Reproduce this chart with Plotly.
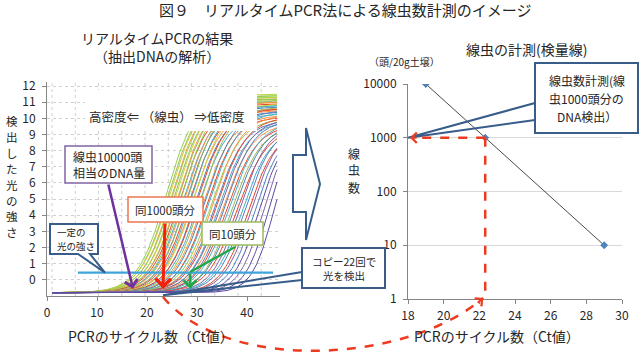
import numpy as np
import plotly.graph_objects as go

W, H = 640, 356

# ---------------- data ----------------
cycle_ticks = [0, 10, 20, 30, 40]
intensity_ticks = list(range(0, 13))
baseline = -0.8

# amplification curves (midpoint cycle, steepness, rise height, colour)
curve_mid = [23.9, 24.3, 24.6, 24.9, 25.2, 25.5, 25.8, 26.1, 26.4, 26.7,
             27.0, 27.3, 27.6, 27.9, 28.2, 28.5, 28.8, 29.1, 29.4, 29.7,
             30.0, 30.4, 30.8, 31.2, 31.6, 32.0, 32.4, 32.8, 33.2, 33.6,
             34.0, 34.4, 34.8, 35.2, 35.6, 36.0, 36.5, 37.0, 37.5, 38.0,
             38.5, 39.0, 39.6, 40.2, 40.8, 41.5, 42.3, 43.2, 44.2, 45.3]
curve_scale = [2.9, 2.9, 3.0, 2.9, 3.0, 2.9, 3.0, 2.9, 3.0, 3.0,
               2.9, 3.0, 3.0, 2.9, 3.0, 3.0, 2.9, 3.0, 3.0, 2.9,
               3.0, 3.0, 2.9, 3.0, 3.0, 2.9, 3.0, 3.0, 2.9, 3.0,
               3.0, 2.9, 3.0, 3.0, 2.9, 3.0, 3.0, 2.9, 3.0, 3.0,
               2.8, 2.8, 2.8, 2.7, 2.7, 2.6, 2.5, 2.4, 2.3, 2.2]
curve_height = [12.2, 12.1, 12.3, 12.0, 12.2, 11.9, 12.1, 11.8, 12.0, 11.7,
                12.0, 11.6, 11.8, 11.5, 11.9, 11.4, 11.6, 11.3, 11.7, 11.2,
                11.4, 11.1, 11.5, 11.0, 11.3, 10.9, 11.2, 10.8, 11.0, 10.7,
                10.9, 10.6, 10.8, 10.5, 10.7, 10.4, 10.6, 10.3, 10.5, 10.2,
                10.4, 10.1, 10.3, 10.0, 10.2, 10.0, 10.0, 10.0, 10.0, 10.0]
G, LG, YG, O, R, B, C, P, DP = ("#9BBB59", "#92D050", "#C3D33C", "#F79646", "#E8452C",
                                "#4F81BD", "#4BACC6", "#8064A2", "#5B4BA5")
curve_color = [LG, G, YG, O, LG, G, YG, O, G, R,
               LG, C, O, B, G, R, C, O, YG, B,
               R, C, G, O, B, R, C, LG, O, B,
               R, C, P, O, B, R, C, G, B, R,
               P, C, B, R, P, B, DP, P, DP, DP]

threshold_x = [6.2, 45.2]
threshold_y = [0.45, 0.45]
arrow_ct = [17.2, 23.2, 28.6]       # 10000頭, 1000頭, 10頭

calib_ct = [19.0, 22.33, 29.0]
calib_count = [10000, 1000, 10]
calib_xticks = [18, 20, 22, 24, 26, 28, 30]
calib_yticks = [1, 10, 100, 1000, 10000]

# ---------------- geometry helpers ----------------
L_X0, L_X1, L_Y0, L_Y1 = 47, 280, 82, 296      # left plot area (px)
L_XR, L_YR = [0, 46.6], [-1, 12.25]
R_X0, R_X1, R_Y0, R_Y1 = 408, 622, 84, 299     # right plot area (px)
R_XR, R_YR = [18, 30], [0, 4]


def X(p):
    return p / W


def Y(p):
    return 1 - p / H


def lx(c):
    return L_X0 + (c - L_XR[0]) / (L_XR[1] - L_XR[0]) * (L_X1 - L_X0)


def ly(v):
    return L_Y1 - (v - L_YR[0]) / (L_YR[1] - L_YR[0]) * (L_Y1 - L_Y0)


def rx(c):
    return R_X0 + (c - R_XR[0]) / (R_XR[1] - R_XR[0]) * (R_X1 - R_X0)


def ry(v):
    return R_Y1 - (np.log10(v) - R_YR[0]) / (R_YR[1] - R_YR[0]) * (R_Y1 - R_Y0)


def poly(points, close=True):
    s = "M " + " L ".join(f"{X(x):.5f},{Y(y):.5f}" for x, y in points)
    return s + (" Z" if close else "")


FONT = "Noto Sans CJK JP"
TXT = "#262626"
AX = "#868686"
NAVY = "#385D8A"

fig = go.Figure()

cycles = np.arange(1, 46.01, 0.25)
for m, s, h, col in zip(curve_mid, curve_scale, curve_height, curve_color):
    fig.add_trace(go.Scatter(x=cycles, y=baseline + h / (1 + np.exp(-(cycles - m) / s)),
                             mode="lines", line=dict(color=col, width=1),
                             xaxis="x", yaxis="y", hoverinfo="skip", showlegend=False))

fig.add_trace(go.Scatter(x=threshold_x, y=threshold_y, mode="lines",
                         line=dict(color="#3FA4DC", width=2.2),
                         xaxis="x", yaxis="y", hoverinfo="skip", showlegend=False))

fig.add_trace(go.Scatter(x=calib_ct, y=calib_count, mode="lines+markers",
                         line=dict(color="#1a1a1a", width=0.8),
                         marker=dict(symbol="diamond", size=6, color="#4F81BD"),
                         xaxis="x2", yaxis="y2", hoverinfo="skip", showlegend=False))

tickfont = dict(family=FONT, size=12, color=TXT)
fig.update_layout(
    width=W, height=H, margin=dict(l=0, r=0, t=0, b=0, pad=0, autoexpand=False),
    paper_bgcolor="white", plot_bgcolor="white", showlegend=False,
    xaxis=dict(domain=[X(L_X0), X(L_X1)], range=L_XR, tickvals=cycle_ticks,
               ticks="outside", ticklen=4, tickcolor=AX, showline=True, linecolor=AX,
               showgrid=False, zeroline=False, tickfont=tickfont, anchor="y",
               ticklabelstandoff=2, automargin=False),
    yaxis=dict(domain=[Y(L_Y1), Y(L_Y0)], range=L_YR, tickvals=intensity_ticks,
               ticks="outside", ticklen=4, tickcolor=AX, showline=True, linecolor=AX,
               showgrid=True, gridcolor="#D0D0D0", griddash="dot", zeroline=False,
               tickfont=tickfont, anchor="x", ticklabelstandoff=4, automargin=False),
    xaxis2=dict(domain=[X(R_X0), X(R_X1)], range=R_XR, tickvals=calib_xticks,
                ticks="outside", ticklen=4, tickcolor=AX, showline=True, linecolor=AX,
                showgrid=False, zeroline=False, tickfont=tickfont, anchor="y2",
                ticklabelstandoff=2, automargin=False),
    yaxis2=dict(domain=[Y(R_Y1), Y(R_Y0)], type="log", range=R_YR, tickvals=calib_yticks,
                ticktext=[str(v) for v in calib_yticks],
                ticks="outside", ticklen=4, tickcolor=AX, showline=True, linecolor=AX,
                showgrid=True, gridcolor="#D9D9D9", zeroline=False, tickfont=tickfont,
                anchor="x2", ticklabelstandoff=4, automargin=False),
)

shapes = []
# dotted vertical gridlines of the left chart
for k in range(10):
    gx = 1 + 4.65 * k
    shapes.append(dict(type="line", xref="x", yref="y", x0=gx, x1=gx, y0=L_YR[0], y1=L_YR[1],
                       line=dict(color="#D0D0D0", width=1, dash="dot"), layer="below"))

# white background behind the density label
shapes.append(dict(type="rect", xref="paper", yref="paper", x0=X(85), x1=X(257), y0=Y(131), y1=Y(90),
                   fillcolor="white", line=dict(width=0), layer="above"))


def rect(x0, y0, x1, y1, color, width=1.5):
    return dict(type="rect", xref="paper", yref="paper", x0=X(x0), x1=X(x1), y0=Y(y1), y1=Y(y0),
                fillcolor="white", line=dict(color=color, width=width), layer="above")


shapes.append(rect(65, 146, 152, 183, "#8064A2"))
shapes.append(rect(128, 197, 203, 222, "#EB7752"))
shapes.append(rect(202, 222, 263, 245, "#9BBB59"))

thr_tip = (lx(11.6), ly(threshold_y[0]))
shapes.append(dict(type="path", xref="paper", yref="paper",
                   path=poly([(50, 224), (98, 224), (98, 254), (90, 254), thr_tip, (78, 254), (50, 254)]),
                   fillcolor="white", line=dict(color=NAVY, width=2), layer="above"))

copy_tip = (lx(arrow_ct[1]), ly(-0.95))
shapes.append(rect(302, 248, 385, 288, NAVY, 2))
shapes.append(dict(type="path", xref="paper", yref="paper",
                   path=poly([(302, 272), copy_tip, (302, 280)], close=False),
                   line=dict(color=NAVY, width=2), layer="above"))

cal_tip = (rx(R_XR[0]), ry(calib_count[1]))
shapes.append(rect(535, 63, 638, 133, NAVY, 2))
shapes.append(dict(type="path", xref="paper", yref="paper",
                   path=poly([(535, 103), cal_tip, (535, 120)], close=False),
                   line=dict(color=NAVY, width=2), layer="above"))

# block arrow between the charts
shapes.append(dict(type="path", xref="paper", yref="paper",
                   path=poly([(293, 155), (306, 155), (306, 128), (320, 184), (306, 240), (306, 212), (293, 212)]),
                   fillcolor="white", line=dict(color=NAVY, width=2), layer="above"))

# green elbow
GREEN = "#22A84A"
shapes.append(dict(type="line", xref="paper", yref="paper", x0=X(235), y0=Y(247),
                   x1=X(lx(arrow_ct[2])), y1=Y(272), line=dict(color=GREEN, width=2.5), layer="above"))

# red dashed guide lines
RED = "#EE3A1F"
px1000 = rx(calib_ct[1])
py1000 = ry(calib_count[1])
shapes.append(dict(type="line", xref="paper", yref="paper", x0=X(px1000), y0=Y(py1000),
                   x1=X(rx(R_XR[0]) + 4), y1=Y(py1000), line=dict(color=RED, width=2.5, dash="dash"),
                   layer="above"))
shapes.append(dict(type="line", xref="paper", yref="paper", x0=X(px1000), y0=Y(py1000),
                   x1=X(px1000), y1=Y(R_Y1 - 2), line=dict(color=RED, width=2.5, dash="dash"),
                   layer="above"))
start = (lx(arrow_ct[1]), L_Y1 + 1)
end = (px1000 - 2, R_Y1 - 1)
shapes.append(dict(type="path", xref="paper", yref="paper",
                   path=(f"M {X(start[0]):.5f},{Y(start[1]):.5f} C {X(225):.5f},{Y(372):.5f} "
                         f"{X(405):.5f},{Y(365):.5f} {X(end[0]):.5f},{Y(end[1]):.5f}"),
                   line=dict(color=RED, width=2.5, dash="dash"), layer="above"))

fig.update_layout(shapes=shapes)

ann = []


def text(x, y, t, size, xanchor="center", align="center", color=TXT, pad=1):
    ann.append(dict(x=X(x), y=Y(y), xref="paper", yref="paper", text=t, showarrow=False,
                    xanchor=xanchor, yanchor="middle", align=align, borderpad=pad,
                    font=dict(family=FONT, size=size, color=color)))


def arrow(tip, tail, color, width, head=4, size=1.0):
    ann.append(dict(x=X(tip[0]), y=Y(tip[1]), xref="paper", yref="paper", text="",
                    showarrow=True, arrowhead=head, arrowsize=size, arrowwidth=width,
                    arrowcolor=color, ax=tail[0] - tip[0], ay=tail[1] - tip[1], standoff=0))


text(345, 10, "図９　リアルタイムPCR法による線虫数計測のイメージ", 15)
text(157, 47.5, "リアルタイムPCRの結果<br>（抽出DNAの解析）", 14)
text(526, 49, "線虫の計測(検量線)", 14)
text(404, 62, "（頭/20g土壌）", 10)
for i, ch in enumerate("検出した光の強さ"):
    text(12, 121 + i * 15.9, ch, 11.5, pad=0)
for i, ch in enumerate("線虫数"):
    text(354, 153 + i * 17, ch, 12, pad=0)
text(151, 336, "PCRのサイクル数（Ct値）", 14)
text(497, 336, "PCRのサイクル数（Ct値）", 14)
text(167, 117, "高密度⇐ （線虫） ⇒低密度", 12.5)
text(71, 164, "線虫10000頭<br>相当のDNA量", 12, xanchor="left", align="left")
text(165.5, 209.5, "同1000頭分", 11.5)
text(232.5, 233.5, "同10頭分", 11.5)
text(56, 232.5, "一定の", 9.5, xanchor="left", align="left", pad=0)
text(56, 246, "光の強さ", 9.5, xanchor="left", align="left", pad=0)
text(343.5, 268, "コピー22回で<br>光を検出", 10.5)
for i, line in enumerate(["線虫数計測(線", "虫1000頭分の", "DNA検出）"]):
    text(586.5, 81 + i * 17.5, line, 12, pad=0)

tip_y = ly(-0.55)
arrow((lx(arrow_ct[0]), tip_y), (108, 183), "#7030A0", 2.5)
arrow((lx(arrow_ct[1]), tip_y), (165, 222), "#F5200A", 3)
arrow((lx(arrow_ct[2]), tip_y), (lx(arrow_ct[2]), 272), GREEN, 2.5)
arrow((rx(R_XR[0]) + 2, py1000), (rx(R_XR[0]) + 10, py1000), RED, 2)
arrow(end, (end[0] - 7, end[1] + 6), RED, 2)

fig.update_layout(annotations=ann)
fig.write_html("out.html", config={"displayModeBar": False},
               post_script="document.body.style.margin='0';document.body.style.overflow='hidden';")
